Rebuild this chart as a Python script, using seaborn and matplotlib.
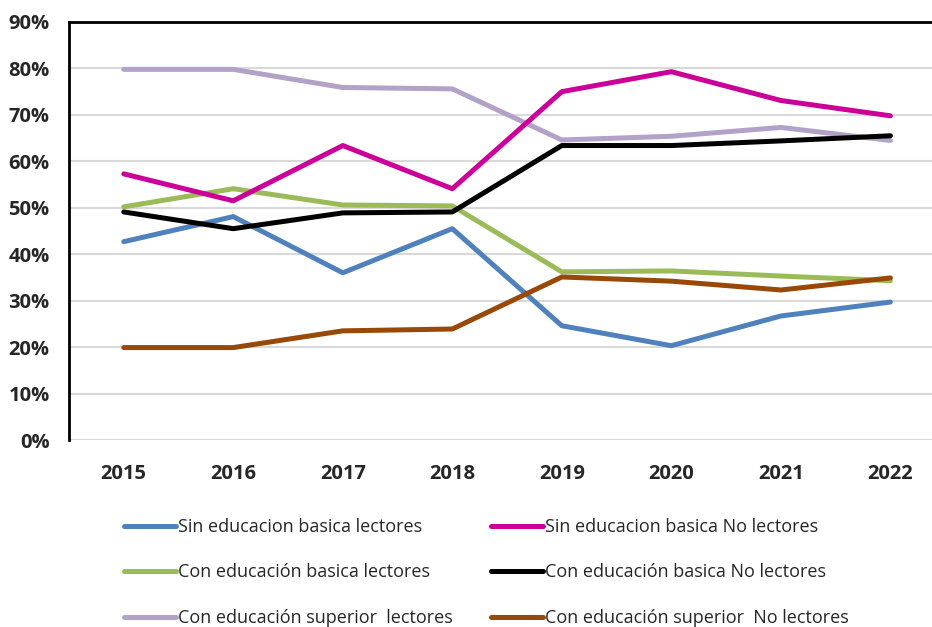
import pandas as pd
import matplotlib
matplotlib.use("Agg")
import matplotlib.pyplot as plt
import seaborn as sns
from matplotlib.ticker import PercentFormatter

years = [2015, 2016, 2017, 2018, 2019, 2020, 2021, 2022]

sin_basica_lect = [42.7, 48.1, 36.0, 45.5, 24.6, 20.3, 26.7, 29.7]
sin_basica_nolect = [57.3, 51.5, 63.4, 54.1, 75.0, 79.3, 73.1, 69.8]
con_basica_lect = [50.2, 54.1, 50.6, 50.4, 36.2, 36.4, 35.3, 34.3]
con_basica_nolect = [49.1, 45.5, 48.9, 49.1, 63.4, 63.4, 64.4, 65.5]
con_sup_lect = [79.8, 79.8, 75.9, 75.6, 64.6, 65.4, 67.3, 64.5]
con_sup_nolect = [19.9, 19.9, 23.5, 23.9, 35.1, 34.2, 32.3, 34.9]

series = {
    "Sin educacion basica lectores": sin_basica_lect,
    "Con educación basica lectores": con_basica_lect,
    "Con educación superior  lectores": con_sup_lect,
    "Sin educacion basica No lectores": sin_basica_nolect,
    "Con educación basica No lectores": con_basica_nolect,
    "Con educación superior  No lectores": con_sup_nolect,
}
colors = ["#4F81BD", "#9BBB59", "#B3A2C7", "#CC0099", "#000000", "#984807"]

rows = []
for name, vals in series.items():
    for y, v in zip(years, vals):
        rows.append({"Año": y, "Valor": v, "Serie": name})
df = pd.DataFrame(rows)

sns.set_style("white")
plt.rcParams["font.family"] = ["Open Sans", "DejaVu Sans"]

fig = plt.figure(figsize=(9.32, 6.27), dpi=100)
ax = fig.add_axes([69 / 932, 1 - 440 / 627, 1 - 69 / 932, 418 / 627])

draw_order = list(series.keys())
sns.lineplot(data=df, x="Año", y="Valor", hue="Serie", hue_order=draw_order,
             palette=colors, linewidth=3.6, ax=ax, legend=False,
             solid_capstyle="round")

ax.set_ylim(0, 90)
ax.set_xlim(2014.5, 2022.38)
ax.set_yticks(range(0, 91, 10))
ax.yaxis.set_major_formatter(PercentFormatter(decimals=0))
ax.set_xticks(years)
ax.set_xlabel("")
ax.set_ylabel("")
ax.grid(axis="y", color="#D9D9D9", linewidth=1.5)
ax.set_axisbelow(True)
for side in ["right", "bottom"]:
    ax.spines[side].set_visible(False)
ax.spines["left"].set_color("black")
ax.spines["left"].set_linewidth(2)
ax.spines["top"].set_color("black")
ax.spines["top"].set_linewidth(2)
ax.tick_params(axis="both", length=0, labelsize=14.5)
ax.tick_params(axis="y", pad=14)
ax.tick_params(axis="x", pad=17)
for lab in ax.get_xticklabels() + ax.get_yticklabels():
    lab.set_fontweight("bold")

handles = ax.get_lines()[:6]
fig.legend(handles, draw_order, ncol=2, loc="upper left",
           bbox_to_anchor=(124 / 932, 1 - 518 / 627), frameon=False,
           borderpad=0, borderaxespad=0,
           fontsize=13, handlelength=2.9, handletextpad=0.1,
           columnspacing=2.1, labelspacing=1.52)

fig.savefig("out.png", dpi=100)
